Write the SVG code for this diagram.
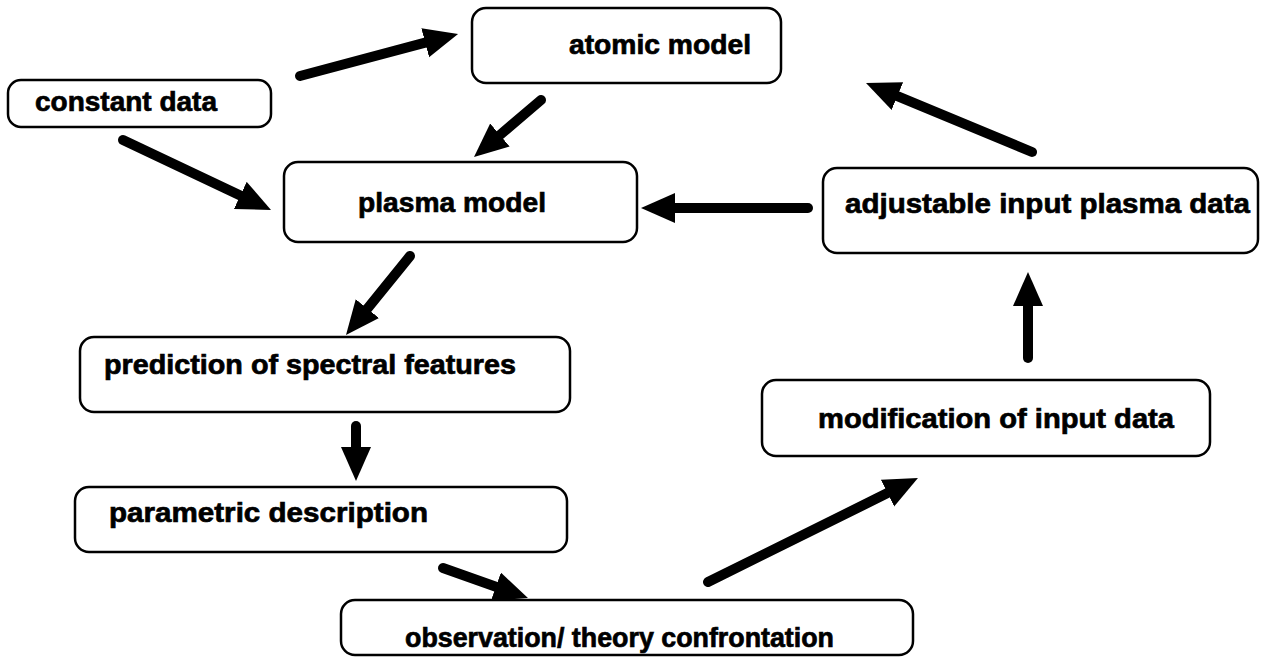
<svg xmlns="http://www.w3.org/2000/svg" width="1264" height="657" viewBox="0 0 1264 657">
  <style>
    .box { fill: #ffffff; stroke: #000000; stroke-width: 2.5; }
    .label { font-family: "Liberation Sans", Arial, Helvetica, sans-serif; font-weight: bold; font-size: 28px; fill: #000000; stroke: #000000; stroke-width: 0.7; }
    .arrow { stroke: #000000; stroke-width: 10; stroke-linecap: round; fill: none; marker-end: url(#head); }
  </style>
  <defs>
    <!-- filled arrowhead; the line stops at the head's base -->
    <marker id="head" markerUnits="userSpaceOnUse" markerWidth="36" markerHeight="32" refX="0" refY="15" orient="auto">
      <path d="M0,0 L34,15 L0,30 Z" fill="#000000"/>
    </marker>
  </defs>
  <rect width="1264" height="657" fill="#ffffff"/>

  <!-- nodes -->
  <g id="constant-data">
    <rect class="box" x="8" y="80" width="263" height="47" rx="13"/>
    <text class="label" x="35" y="111" textLength="182" lengthAdjust="spacingAndGlyphs">constant data</text>
  </g>
  <g id="atomic-model">
    <rect class="box" x="472" y="8" width="309" height="75" rx="14"/>
    <text class="label" x="569" y="54" textLength="182" lengthAdjust="spacingAndGlyphs">atomic model</text>
  </g>
  <g id="plasma-model">
    <rect class="box" x="284" y="162" width="353" height="80" rx="14"/>
    <text class="label" x="358" y="212" textLength="188" lengthAdjust="spacingAndGlyphs">plasma model</text>
  </g>
  <g id="adjustable-input">
    <rect class="box" x="823" y="168" width="435" height="85" rx="14"/>
    <text class="label" x="845" y="213" textLength="405" lengthAdjust="spacingAndGlyphs">adjustable input plasma data</text>
  </g>
  <g id="prediction">
    <rect class="box" x="80" y="337" width="490" height="75" rx="14"/>
    <text class="label" x="104" y="374" textLength="412" lengthAdjust="spacingAndGlyphs">prediction of spectral features</text>
  </g>
  <g id="modification">
    <rect class="box" x="762" y="380" width="448" height="76" rx="14"/>
    <text class="label" x="818" y="428" textLength="356" lengthAdjust="spacingAndGlyphs">modification of input data</text>
  </g>
  <g id="parametric">
    <rect class="box" x="75" y="487" width="492" height="65" rx="14"/>
    <text class="label" x="109" y="522" textLength="319" lengthAdjust="spacingAndGlyphs">parametric  description</text>
  </g>
  <g id="observation">
    <rect class="box" x="341" y="600" width="572" height="55" rx="14"/>
    <text class="label" x="405" y="647" textLength="429" lengthAdjust="spacingAndGlyphs">observation/ theory confrontation</text>
  </g>

  <!-- connectors -->
  <g id="connectors">
    <line class="arrow" x1="300" y1="76" x2="425.2" y2="42.7"/>
    <line class="arrow" x1="541" y1="100" x2="499.9" y2="135"/>
    <line class="arrow" x1="123" y1="140" x2="240.3" y2="195.4"/>
    <line class="arrow" x1="1032" y1="152" x2="897.4" y2="96.1"/>
    <line class="arrow" x1="808" y1="208" x2="675" y2="208"/>
    <line class="arrow" x1="410" y1="256" x2="367.4" y2="308.6"/>
    <line class="arrow" x1="356" y1="426" x2="356" y2="447"/>
    <line class="arrow" x1="443" y1="568" x2="495.9" y2="586.7"/>
    <line class="arrow" x1="708" y1="582" x2="887.5" y2="493.1"/>
    <line class="arrow" x1="1028" y1="358" x2="1028" y2="306"/>
  </g>
</svg>
